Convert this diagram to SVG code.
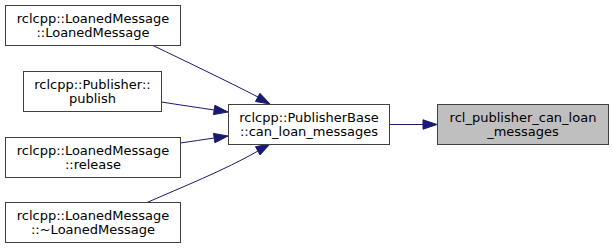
<svg xmlns="http://www.w3.org/2000/svg" width="613" height="248" viewBox="0 0 613 248">
<style>
.box{fill:#ffffff;stroke:#404040;stroke-width:1}
.hl{fill:#bfbfbf;stroke:#404040;stroke-width:1}
.t{font-family:"DejaVu Sans",sans-serif;font-size:13px;fill:#000000;text-anchor:middle}
.e{fill:none;stroke:#191970;stroke-width:1}
.a{fill:#191970;stroke:#191970;stroke-width:1}
</style>
<rect width="613" height="248" fill="#ffffff"/>
<g id="connectors">
<path class="e" d="M389.5,124.5 L423,124.5"/>
<polygon class="a" points="437,124.5 423,119.8 423,129.2"/>
<path class="e" d="M153,45.5 C185,61 225,80 258,97"/>
<polygon class="a" points="270,104 255.5,101.5 259.9,93.3"/>
<path class="e" d="M161.5,102 C180,105 198,107.5 214,110"/>
<polygon class="a" points="228,112 213.5,114.6 214.9,105.3"/>
<path class="e" d="M180.5,143 C192,141.5 203,139.5 214,138"/>
<polygon class="a" points="228,136 214.9,142.7 213.5,133.4"/>
<path class="e" d="M147,202.5 C180,188 225,170 258,151"/>
<polygon class="a" points="270,144 260,154.9 255.5,146.7"/>
</g>
<g id="n1">
<rect class="box" x="5.5" y="5.5" width="175" height="40"/>
<text class="t" x="93" y="23">rclcpp::LoanedMessage</text>
<text class="t" x="93" y="37">::LoanedMessage</text>
</g>
<g id="n2">
<rect class="box" x="23.5" y="71.5" width="138" height="40"/>
<text class="t" x="92.5" y="89">rclcpp::Publisher::</text>
<text class="t" x="92.5" y="103">publish</text>
</g>
<g id="n3">
<rect class="box" x="5.5" y="137.5" width="175" height="40"/>
<text class="t" x="93" y="155">rclcpp::LoanedMessage</text>
<text class="t" x="93" y="169">::release</text>
</g>
<g id="n4">
<rect class="box" x="5.5" y="202.5" width="175" height="40"/>
<text class="t" x="93" y="220">rclcpp::LoanedMessage</text>
<text class="t" x="93" y="234">::~LoanedMessage</text>
</g>
<g id="center">
<rect class="box" x="228.5" y="104.5" width="161" height="40"/>
<text class="t" x="309" y="122">rclcpp::PublisherBase</text>
<text class="t" x="309" y="136">::can_loan_messages</text>
</g>
<g id="target">
<rect class="hl" x="437.5" y="104.5" width="171" height="40"/>
<text class="t" x="523" y="122">rcl_publisher_can_loan</text>
<text class="t" x="523" y="136">_messages</text>
</g>
</svg>
